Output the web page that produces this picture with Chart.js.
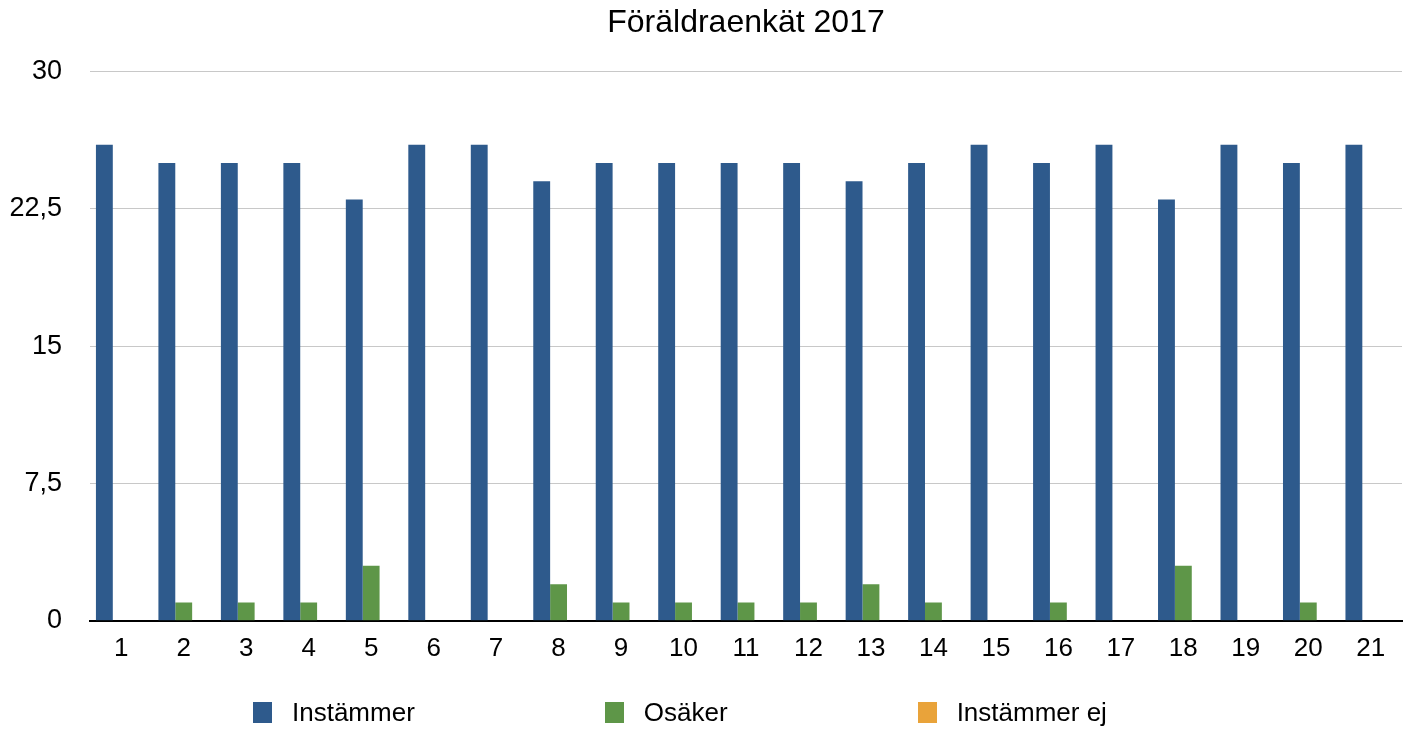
<!DOCTYPE html>
<html>
<head>
<meta charset="utf-8">
<script src="https://cdn.jsdelivr.net/npm/chart.js@4"></script>
<style>
  html, body { margin: 0; padding: 0; background: #fff; }
  #wrap { position: relative; width: 1407px; height: 731px; }
  #legend {
    position: absolute; top: 697px; left: 253px;
    display: flex; gap: 190px;
    font-family: 'Liberation Sans', Arial, sans-serif; font-size: 26px; color: #000;
  }
  #legend .item { display: flex; align-items: center; }
  #legend .box { width: 19px; height: 21px; margin-right: 20px; }
</style>
</head>
<body>
<div id="wrap">
  <canvas id="surveyChart" width="1407" height="731"></canvas>
  <div id="legend"></div>
</div>
<script>
var categories = ['1', '2', '3', '4', '5', '6', '7', '8', '9', '10', '11', '12', '13', '14', '15', '16', '17', '18', '19', '20', '21'];
var instammer = [26, 25, 25, 25, 23, 26, 26, 24, 25, 25, 25, 25, 24, 25, 26, 25, 26, 23, 26, 25, 26];
var osaker = [0, 1, 1, 1, 3, 0, 0, 2, 1, 1, 1, 1, 2, 1, 0, 1, 0, 3, 0, 1, 0];
var instammerEj = [0, 0, 0, 0, 0, 0, 0, 0, 0, 0, 0, 0, 0, 0, 0, 0, 0, 0, 0, 0, 0];

var font = "'Liberation Sans', Arial, sans-serif";

var surveyCtx = document.getElementById('surveyChart').getContext('2d');
var surveyChart = new Chart(surveyCtx, {
  type: 'bar',
  data: {
    labels: categories,
    datasets: [{
      label: 'Instämmer',
      backgroundColor: '#2e5a8c',
      data: instammer
    },
    {
      label: 'Osäker',
      backgroundColor: '#5e9648',
      data: osaker
    },
    {
      label: 'Instämmer ej',
      backgroundColor: '#e9a33a',
      data: instammerEj
    }]
  },
  options: {
    responsive: false,
    animation: false,
    categoryPercentage: 0.81,
    barPercentage: 1.0,
    layout: {
      padding: { left: 10, right: 5, top: 0, bottom: 63 }
    },
    plugins: {
      legend: { display: false },
      tooltip: { enabled: false },
      title: {
        display: true,
        fullSize: false,  // center over the plot area, like the original
        text: 'Föräldraenkät 2017',
        color: '#000',
        font: { family: font, size: 32, weight: 'normal' },
        padding: { top: 4, bottom: 29 }
      }
    },
    scales: {
      x: {
        grid: { display: false },
        border: { display: true, color: '#000', width: 2 },
        ticks: { color: '#000', padding: 4, font: { family: font, size: 26 } }
      },
      y: {
        min: 0,
        max: 30,
        border: { display: false },
        grid: {
          drawTicks: false,
          color: function(ctx) { return ctx.tick && ctx.tick.value === 0 ? 'rgba(0,0,0,0)' : '#c8c8c8'; },
          lineWidth: 1
        },
        afterFit: function(scale) { scale.width = 80; },
        ticks: {
          stepSize: 7.5,
          color: '#000',
          padding: 28,
          font: { family: font, size: 27 },
          callback: function(value) { return String(value).replace('.', ','); }
        }
      }
    }
  }
});

// HTML legend, built from the datasets
var legendEl = document.getElementById('legend');
surveyChart.data.datasets.forEach(function(ds) {
  var item = document.createElement('div');
  item.className = 'item';
  var box = document.createElement('span');
  box.className = 'box';
  box.style.background = ds.backgroundColor;
  item.appendChild(box);
  item.appendChild(document.createTextNode(ds.label));
  legendEl.appendChild(item);
});
</script>
</body>
</html>
